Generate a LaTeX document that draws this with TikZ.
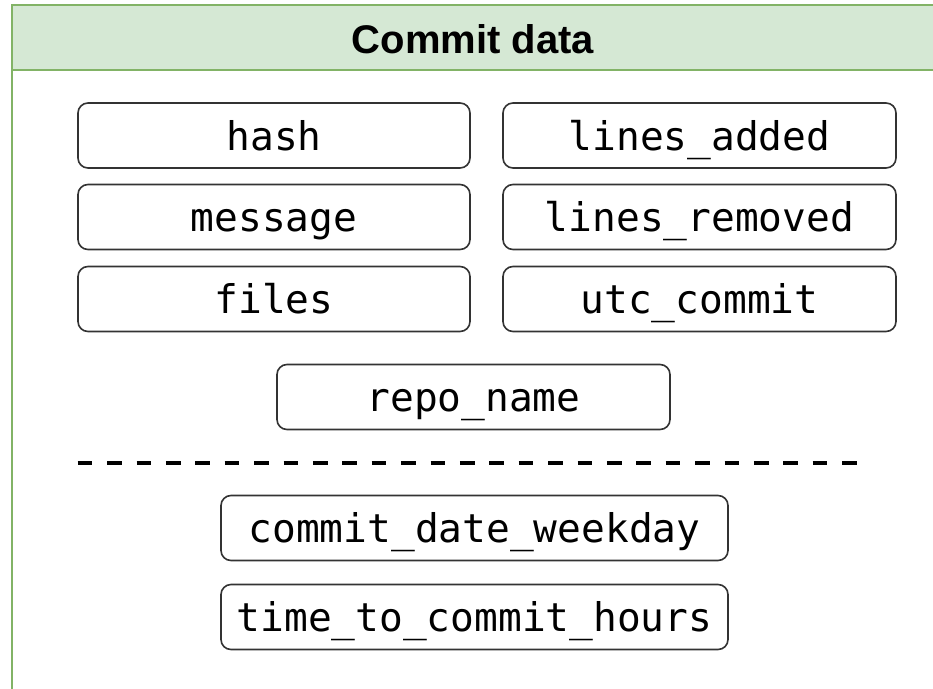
\documentclass[tikz,border=0pt]{standalone}
\usepackage{fontspec}
\setmainfont{Liberation Sans}
\newfontfamily\fieldfont{DejaVu Sans Mono}
\definecolor{hdrfill}{HTML}{D5E8D4}
\definecolor{hdrline}{HTML}{82B366}
\definecolor{boxline}{HTML}{333333}
\tikzset{
  field/.style={draw=boxline, line width=1.6pt, rounded corners=10pt,
    minimum height=65pt, inner sep=0pt, text height=29pt, text depth=0pt,
    font=\fieldfont\fontsize{39.5}{40}\selectfont},
  frameline/.style={draw=hdrline, line width=2pt},
  separator/.style={line width=4.8pt, dash pattern=on 14.7pt off 14.7pt},
  titletext/.style={anchor=base, inner sep=0pt,
    font=\bfseries\fontsize{40}{42}\selectfont},
}
\begin{document}
\begin{tikzpicture}[x=1pt, y=-1pt]
  \useasboundingbox (0,0) rectangle (933,688);
  \clip (0,0) rectangle (933,688);
  % container and its green header
  \path[frameline, fill=white] (12,4.7) rectangle (960,720);
  \path[frameline, fill=hdrfill] (12,4.7) rectangle (960,70.3);
  \node[titletext] (title) at (473,53) {Commit data};

  % stored fields, two columns
  \node[field, minimum width=392pt] (hash)    at (274,135.5) {hash};
  \node[field, minimum width=392pt] (message) at (274,217)   {message};
  \node[field, minimum width=392pt] (files)   at (274,299)   {files};
  \node[field, minimum width=393pt] (added)   at (699.5,135.5) {lines\_added};
  \node[field, minimum width=393pt] (removed) at (699.5,217)   {lines\_removed};
  \node[field, minimum width=393pt] (utc)     at (699.5,299)   {utc\_commit};
  \node[field, minimum width=393pt] (repo)    at (473.5,397)   {repo\_name};

  % separator between stored and derived fields
  \coordinate (sepL) at (77.7,463);
  \coordinate (sepR) at (857.7,463);
  \draw[separator] (sepL) -- (sepR);

  % derived fields
  \node[field, minimum width=507pt] (weekday) at (474.5,528) {commit\_date\_weekday};
  \node[field, minimum width=507pt] (hours)   at (474.5,617) {time\_to\_commit\_hours};
\end{tikzpicture}
\end{document}
